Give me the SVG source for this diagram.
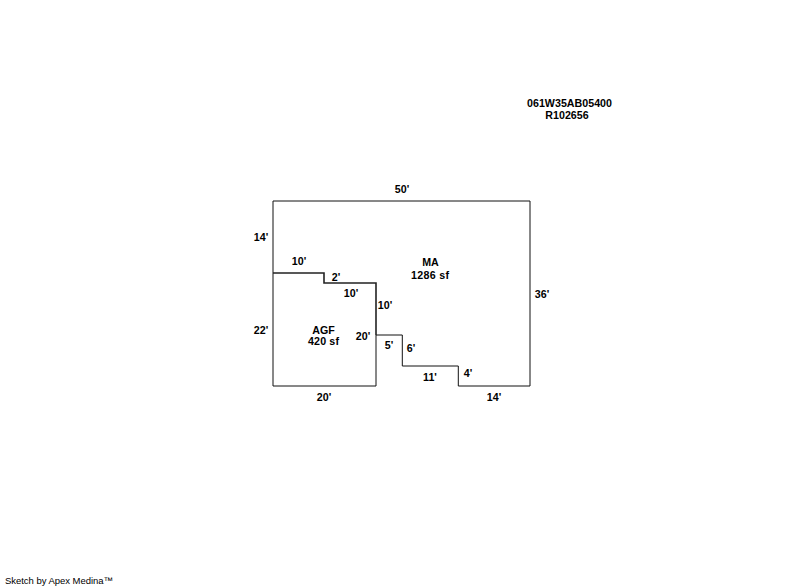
<svg xmlns="http://www.w3.org/2000/svg" width="800" height="587" viewBox="0 0 800 587">
<style>
text{font-family:"Liberation Sans",Arial,sans-serif;font-size:10.67px;font-weight:bold;fill:#000;text-anchor:middle}
.o{fill:none;stroke:#111;stroke-width:1}
.s{fill:none;stroke:#222;stroke-width:1.6}
</style>
<rect width="800" height="587" fill="#fff"/>
<g id="MA">
<path class="o" d="M273 273V201H530V386H458.3V366H402.3V335H376"/>
<text x="430.5" y="266">MA</text><text x="430" y="279" textLength="38">1286 sf</text>
</g>
<g id="AGF">
<path class="o" d="M376 335V386H273V273"/>
<text x="323.5" y="334">AGF</text><text x="323.5" y="345" textLength="31">420 sf</text>
</g>
<g id="connectors">
<path class="s" d="M273 273H324V283H376V335"/>
</g>
<g id="labels">
<text x="402" y="193">50'</text>
<text x="261" y="241">14'</text>
<text x="299" y="265">10'</text>
<text x="336" y="281">2'</text>
<text x="351" y="297">10'</text>
<text x="385" y="309">10'</text>
<text x="363" y="340">20'</text>
<text x="261" y="334">22'</text>
<text x="389" y="349">5'</text>
<text x="411" y="352">6'</text>
<text x="430" y="381">11'</text>
<text x="468" y="377">4'</text>
<text x="494" y="401">14'</text>
<text x="324" y="401">20'</text>
<text x="542" y="298">36'</text>
<text x="569.5" y="107" textLength="85">061W35AB05400</text>
<text x="567" y="119">R102656</text>
</g>
<text x="59" y="584" style="font-weight:normal;font-size:9.5px" textLength="108">Sketch by Apex Medina™</text>
</svg>
